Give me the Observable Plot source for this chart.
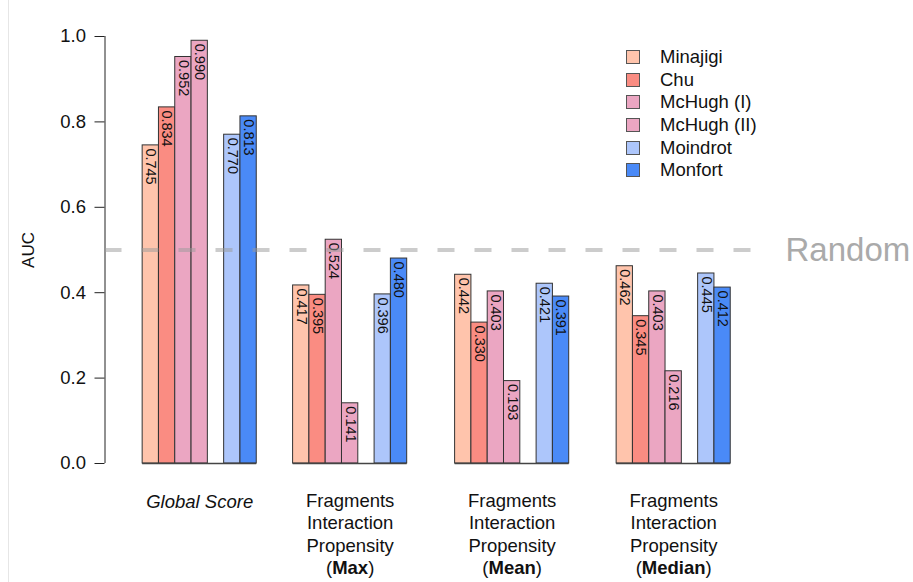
<!DOCTYPE html>
<html><head><meta charset="utf-8">
<script src="https://cdn.jsdelivr.net/npm/d3@7"></script>
<script src="https://cdn.jsdelivr.net/npm/@observablehq/plot@0.6"></script>
<style>
body{margin:0;background:#fff;font-family:"Liberation Sans",Arial,sans-serif;}
#wrap{position:relative;width:913px;height:582px;overflow:hidden;}
#edge{position:absolute;left:8px;top:0;width:1px;height:582px;background:#e6e6e6;}
#legend{position:absolute;left:626px;top:46px;font-size:18.5px;color:#111;}
#legend .row{height:22.6px;display:flex;align-items:center;}
#legend .sw{width:14px;height:14px;box-sizing:border-box;border:1.5px solid #555;margin-right:20px;}
</style></head><body><div id="wrap"><div id="edge"></div></div>
<script>
// ---- data ----
const methods = ["Minajigi", "Chu", "McHugh (I)", "McHugh (II)", "Moindrot", "Monfort"];
const methodColors = ["#FFC4AC", "#FA8C82", "#EBA6C2", "#EBA6C2", "#ADC6FB", "#4A8AF7"];
const groupLines = [
  ["Global Score"],
  ["Fragments", "Interaction", "Propensity", "(Max)"],
  ["Fragments", "Interaction", "Propensity", "(Mean)"],
  ["Fragments", "Interaction", "Propensity", "(Median)"]
];
const groupEmphasis = ["", "Max", "Mean", "Median"];
const globalScore = [0.745, 0.834, 0.952, 0.990, 0.770, 0.813];
const fipMax      = [0.417, 0.395, 0.524, 0.141, 0.396, 0.480];
const fipMean     = [0.442, 0.330, 0.403, 0.193, 0.421, 0.391];
const fipMedian   = [0.462, 0.345, 0.403, 0.216, 0.445, 0.412];
const yTicks = [0, 0.2, 0.4, 0.6, 0.8, 1.0];
const randomLevel = 0.5;
const randomLabel = "Random";
const yLabel = "AUC";

// ---- layout (in bar-slot units): 4 bars, an empty slot, 2 bars ----
const methodSlot = [0, 1, 2, 3, 5, 6];
const slotsPerGroup = 7;
const groupOffset = [0, 9.23, 19.17, 29.08];
const xDomain = [-2.31, 38.52];

const series = [globalScore, fipMax, fipMean, fipMedian];
const rows = [];
series.forEach((vals, gi) => vals.forEach((v, mi) => rows.push({
  gi, method: methods[mi], value: v,
  x1: groupOffset[gi] + methodSlot[mi], x2: groupOffset[gi] + methodSlot[mi] + 1
})));
const groups = groupLines.map((lines, gi) => ({
  gi, text: lines.join("\n"), italic: lines.length === 1,
  x: groupOffset[gi] + slotsPerGroup / 2,
  x1: groupOffset[gi], x2: groupOffset[gi] + slotsPerGroup
}));

const chart = Plot.plot({
  width: 913, height: 582,
  marginLeft: 104.5, marginRight: 143, marginTop: 36, marginBottom: 119,
  style: {fontFamily: "'Liberation Sans', Arial, sans-serif", fontSize: "18.5px", color: "#111", background: "#fff", overflow: "visible"},
  x: {domain: xDomain, axis: null},
  y: {domain: [0, 1]},
  color: {domain: methods, range: methodColors},
  marks: [
    Plot.axisY({ticks: yTicks, tickSize: 10, tickPadding: 9, tickFormat: d3.format(".1f"), label: null, stroke: "#222", fontSize: 18.5}),
    Plot.ruleX([xDomain[0]], {y1: 0, y2: 1, stroke: "#222"}),
    Plot.text([yLabel], {y: () => (0 + 1) / 2, frameAnchor: "left", textAnchor: "middle", rotate: -90, dx: -76, fontSize: 17, fill: "#111"}),
    Plot.rect(rows, {x1: "x1", x2: "x2", y1: 0, y2: "value", fill: "method", stroke: "#333", strokeWidth: 1}),
    Plot.ruleY(groups, {x1: "x1", x2: "x2", y: 0, stroke: "#444", strokeWidth: 1.5}),
    Plot.text(rows, {x: d => (d.x1 + d.x2) / 2, y: "value", text: d => d3.format(".3f")(d.value),
      rotate: 90, textAnchor: "start", lineAnchor: "middle", dy: 3, fontSize: 14.5, fill: "#111"}),
    Plot.ruleY([randomLevel], {stroke: "#999", strokeOpacity: 0.5, strokeWidth: 4, strokeDasharray: "17,20"}),
    Plot.text([randomLevel], {y: d => d, text: () => randomLabel, frameAnchor: "right", textAnchor: "start",
      dx: 15, fontSize: 33, fill: "#aaa"}),
    Plot.text(groups.filter(g => g.italic), {x: "x", y: 0, text: "text", lineAnchor: "top", dy: 31,
      fontStyle: "italic", fontSize: 18.5, fill: "#111"}),
    Plot.text(groups.filter(g => !g.italic), {x: "x", y: 0, text: "text", lineAnchor: "top", dy: 28,
      lineHeight: 1.2, fontSize: 18.5, fill: "#111"})
  ]
});
document.getElementById("wrap").appendChild(chart);

// bold emphasis inside "(Max)" etc.
d3.select(chart).selectAll("tspan").each(function () {
  const t = this.textContent;
  const em = groupEmphasis.find(e => e && t === "(" + e + ")");
  if (em) {
    const el = d3.select(this);
    el.text("");
    el.append("tspan").text("(");
    el.append("tspan").attr("font-weight", "bold").text(em);
    el.append("tspan").text(")");
  }
});

// legend from the plot's color scale
const color = chart.scale("color");
const legend = d3.select("#wrap").append("div").attr("id", "legend");
color.domain.forEach((m, i) => {
  const r = legend.append("div").attr("class", "row");
  r.append("div").attr("class", "sw").style("background", color.range[i]);
  r.append("span").text(m);
});
</script>
</body></html>
